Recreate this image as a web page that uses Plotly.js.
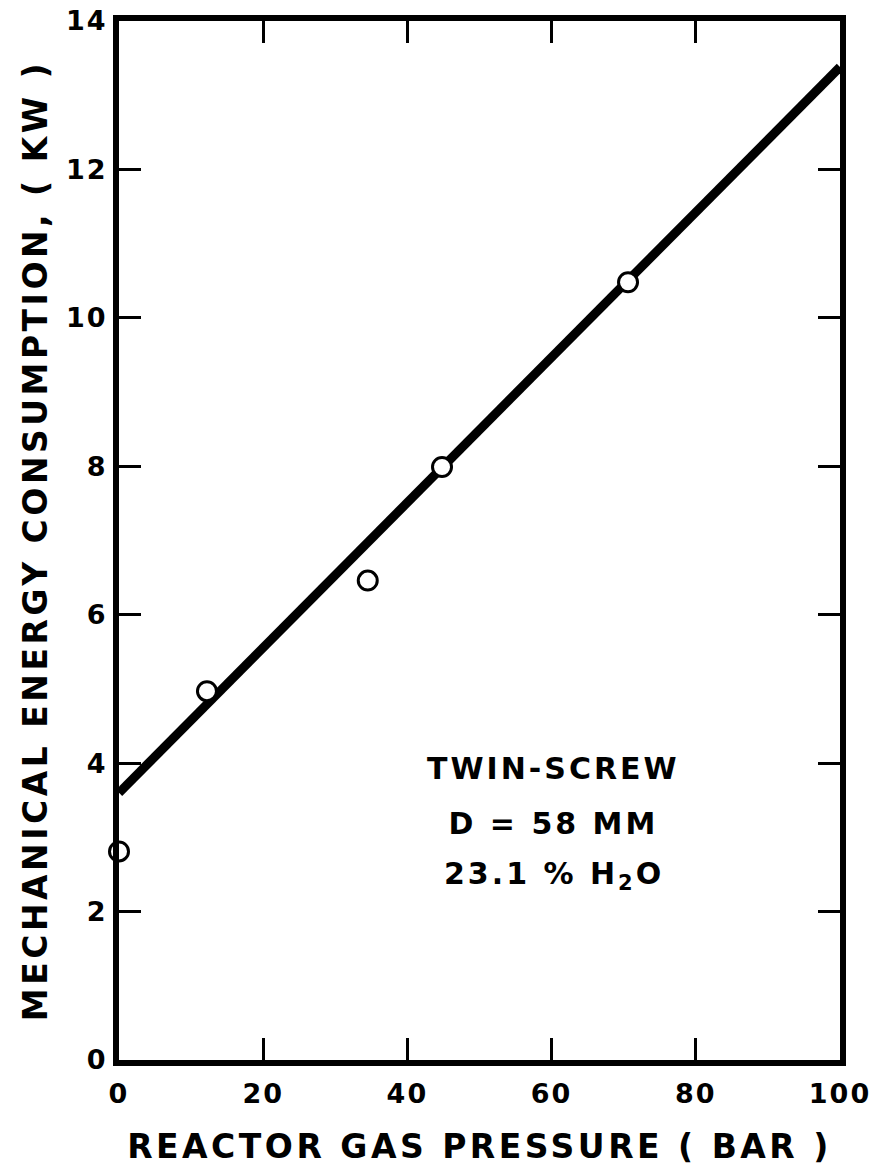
<!DOCTYPE html>
<html>
<head>
<meta charset="utf-8">
<script src="https://cdn.plot.ly/plotly-3.0.1.min.js"></script>
<style>
html,body{margin:0;padding:0;background:#fff;}
#chart{width:882px;height:1169px;}
#chart .xtitle, #chart .ytitle{letter-spacing:3.5px;}
#chart .xtick text, #chart .ytick text{letter-spacing:2px;}
#chart .annotation-text{letter-spacing:3px;}
</style>
</head>
<body>
<div id="chart"></div>
<script>
// Measured data points
const pressureBar = [0, 12.2, 34.5, 44.8, 70.6];
const energyKW = [2.81, 4.97, 6.46, 7.99, 10.48];
// Fitted line endpoints as drawn in the figure
const fitPressure = [0, 100];
const fitEnergy = [3.6, 13.38];
const xTicks = [0, 20, 40, 60, 80, 100];
const yTicks = [0, 2, 4, 6, 8, 10, 12, 14];
const annotationLines = ["TWIN-SCREW", "D = 58 MM", "23.1 % H<sub>2</sub>O"];
const annotationY = [3.93, 3.19, 2.48];

const FONT = "DejaVu Sans, Arial, sans-serif";

const traces = [
  {
    x: fitPressure, y: fitEnergy, mode: "lines", type: "scatter",
    line: {color: "#000", width: 9}, hoverinfo: "skip", showlegend: false
  },
  {
    x: pressureBar, y: energyKW, mode: "markers", type: "scatter",
    marker: {symbol: "circle", size: 19, color: "#fff", line: {color: "#000", width: 3}},
    showlegend: false, cliponaxis: false
  }
];

const axisCommon = {
  showgrid: false, zeroline: false,
  showline: true, linecolor: "#000", linewidth: 6, mirror: "ticks",
  ticks: "inside", ticklen: 22, tickwidth: 3, tickcolor: "#000",
  tickfont: {family: FONT, size: 27, color: "#000", weight: "bold"}
};

const layout = {
  width: 882, height: 1169,
  margin: {l: 119, r: 42, t: 21, b: 109},
  paper_bgcolor: "#fff", plot_bgcolor: "#fff",
  xaxis: Object.assign({}, axisCommon, {
    range: [0, 100], tickvals: xTicks, ticktext: xTicks.map(String),
    ticklabelstandoff: 5,
    title: {text: "REACTOR GAS PRESSURE ( BAR )", standoff: 28,
      font: {family: FONT, size: 33, color: "#000", weight: "bold"}}
  }),
  yaxis: Object.assign({}, axisCommon, {
    range: [0, 14], tickvals: yTicks, ticktext: yTicks.map(String),
    title: {text: "MECHANICAL ENERGY CONSUMPTION, ( KW )", standoff: 14,
      font: {family: FONT, size: 33, color: "#000", weight: "bold"}}
  }),
  annotations: annotationLines.map((t, i) => ({
    x: 60.3, y: annotationY[i], xref: "x", yref: "y", text: t, showarrow: false,
    xanchor: "center", yanchor: "middle",
    font: {family: FONT, size: 30, color: "#000", weight: "bold"}
  }))
};

Plotly.newPlot("chart", traces, layout, {displayModeBar: false, staticPlot: true});
</script>
</body>
</html>
